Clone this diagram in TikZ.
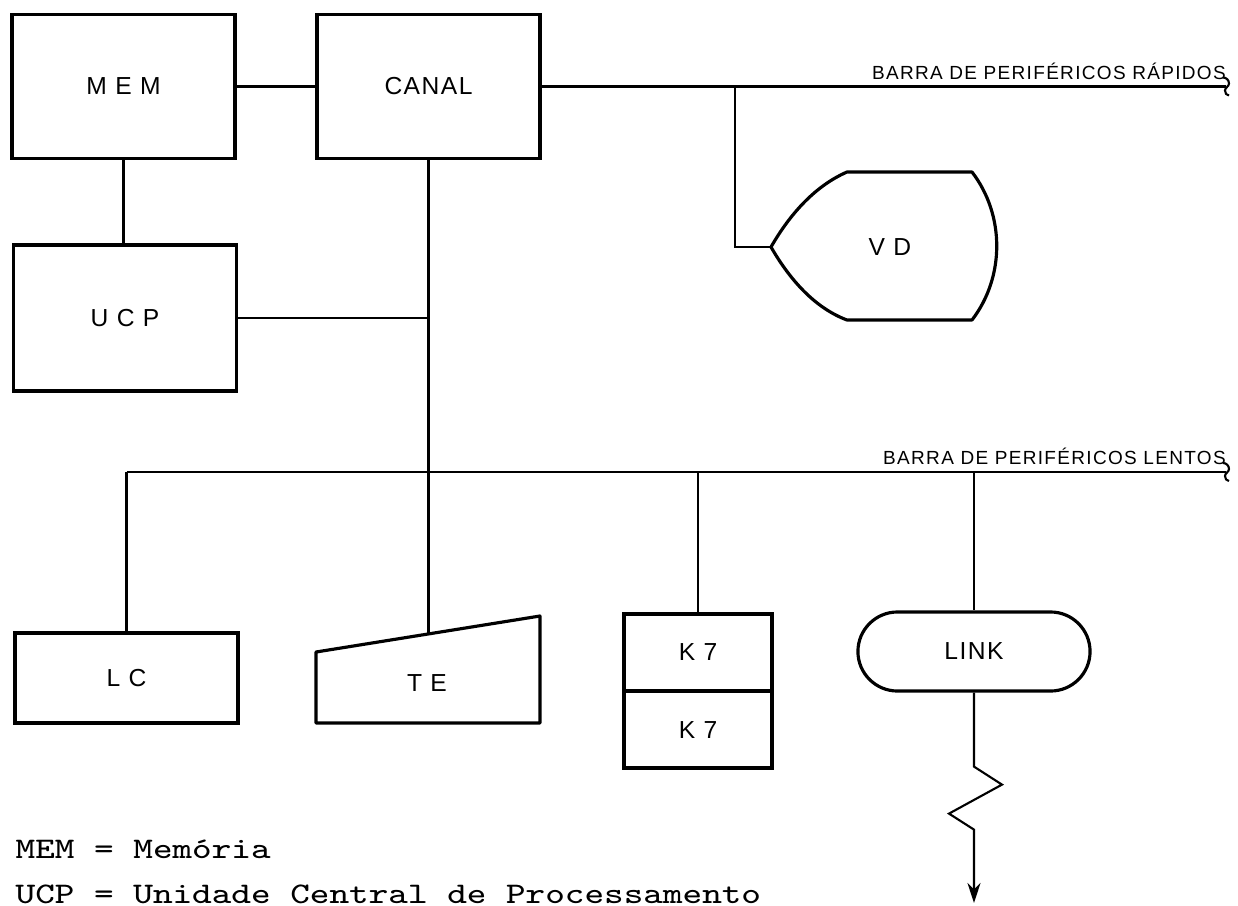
\documentclass[tikz,border=0pt]{standalone}
\usepackage{fontspec}
\setsansfont{Liberation Sans}
\usetikzlibrary{arrows.meta, positioning, calc, shapes.misc}
\newfontfamily\boxfont[LetterSpace=6]{Liberation Sans}
\newfontfamily\busfont[LetterSpace=7]{Liberation Sans}
\newcommand{\typed}[1]{\scalebox{1.25}[1]{#1}}
\tikzset{
    unit/.style    ={rectangle, draw=black, line width=0.9pt, minimum width=2.23cm, minimum height=1.44cm, inner sep=0pt, font=\boxfont\fontsize{7}{8}\selectfont},
    tape/.style    ={unit, outer sep=0pt, minimum width=1.48cm, minimum height=0.77cm},
    linkbox/.style ={rounded rectangle, draw=black, line width=0.9pt, minimum width=2.32cm, minimum height=0.79cm, inner sep=0pt, font=\boxfont\fontsize{7}{8}\selectfont},
    label/.style   ={inner sep=0pt, font=\boxfont\fontsize{7}{8}\selectfont},
    outline/.style ={line width=0.9pt, line join=round},
    wire/.style    ={line width=0.6pt},
    bus/.style     ={line width=0.75pt},
    buslabel/.style={anchor=south east, inner sep=1pt, font=\busfont\fontsize{5.4}{6}\selectfont},
    legend/.style  ={anchor=base west, inner sep=0pt, font=\ttfamily\fontsize{8.5}{10}\selectfont},
}

\begin{document}
\begin{tikzpicture}[x=0.01cm, y=-0.01cm]
    \useasboundingbox (0,0) rectangle (1238,905);
    % central units
    \node[unit] (mem)   at (123.5,86.5) {M E M};
    \node[unit] (canal) at (428.5,86.5) {CANAL};
    \node[unit, minimum height=1.46cm] (ucp) at (125,318) {U C P};
    \draw[wire] (mem) -- (canal);
    \draw[wire] (mem.south) -- (mem.south |- ucp.north);
    % buses
    \coordinate (fastR) at (1226,86.5);
    \coordinate (slowL) at (126.5,472);
    \coordinate (slowR) at (1226,472);
    \draw[bus] (canal.east) -- (fastR);
    \draw[wire] ($(fastR)+(-3,-9)$) to[out=0,in=90] ($(fastR)+(3,-3)$) to[out=-90,in=90] ($(fastR)+(-1,4)$) to[out=-90,in=180] ($(fastR)+(3,9)$);
    \node[buslabel] at ($(fastR)+(4,-3)$) {BARRA DE PERIFÉRICOS RÁPIDOS};
    \draw[bus] (slowL) -- (slowR);
    \draw[wire] ($(slowR)+(-3,-9)$) to[out=0,in=90] ($(slowR)+(3,-3)$) to[out=-90,in=90] ($(slowR)+(-1,4)$) to[out=-90,in=180] ($(slowR)+(3,9)$);
    \node[buslabel] at ($(slowR)+(4,-3)$) {BARRA DE PERIFÉRICOS LENTOS};
    % disc unit
    \coordinate (vdtip) at (771,247);
    \coordinate (vdtap) at (735,86.5);
    \draw[outline] (vdtip) .. controls (790,214) and (815,186) .. (847,172) -- (972,172)
        .. controls (1005,215) and (1005,277) .. (972,320) -- (847,320)
        .. controls (815,308) and (790,280) .. cycle;
    \node[label] (vd) at (890,247) {V D};
    \draw[wire] (vdtap) |- (vdtip);
    % slow peripherals
    \node[unit, minimum height=0.90cm] (lc) at (126.5,678) {L C};
    \draw[wire] (slowL) -- (lc.north);
    \coordinate (tejoin) at (428.5,634);
    \draw[outline] (316,652) -- (540,616) -- (540,723) -- (316,723) -- cycle;
    \node[label] (te) at (427,683) {T E};
    \draw[wire] (canal.south) -- (ucp.east -| canal.south) -- (tejoin);
    \draw[wire] (ucp.east) -- (ucp.east -| canal.south);
    \node[tape] (k7a) at (698,652.5) {K 7};
    \node[tape, below=0pt of k7a] (k7b) {K 7};
    \draw[wire] (k7a.north |- slowL) -- (k7a.north);
    \node[linkbox] (link) at (974,651.5) {LINK};
    \draw[wire] (link.north |- slowL) -- (link.north);
    \coordinate (linkend) at (974,903);
    \draw[wire, -{Stealth[length=2mm, width=1.3mm]}] (link.south) -- ++(0,74) -- ++(28,18) -- ++(-53,29) -- ++(25,16) -- (linkend);
    % legend
    \node[legend] (lgmem) at (15,858) {\typed{MEM = Memória}};
    \node[legend] (lgucp) at (15,903) {\typed{UCP = Unidade Central de Processamento}};
\end{tikzpicture}
\end{document}
